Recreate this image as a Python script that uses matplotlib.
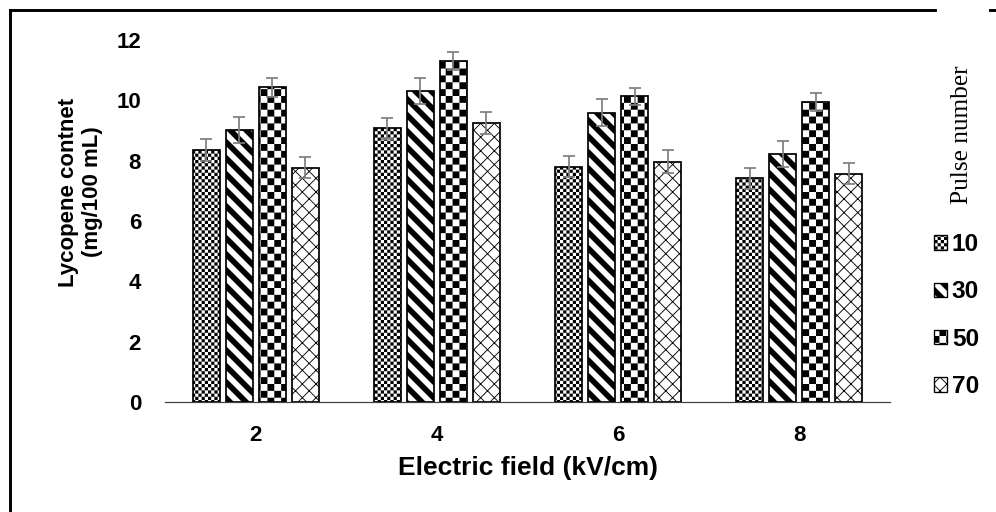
import numpy as np
import matplotlib
matplotlib.use('Agg')
import matplotlib.pyplot as plt
import matplotlib.hatch as mhatch
from matplotlib.path import Path
from matplotlib.patches import Patch
from matplotlib.lines import Line2D

# data
fields = ['2', '4', '6', '8']
pulses = ['10', '30', '50', '70']
p10 = [8.35, 9.08, 7.80, 7.42]
p30 = [9.02, 10.31, 9.59, 8.22]
p50 = [10.43, 11.29, 10.13, 9.95]
p70 = [7.77, 9.25, 7.97, 7.57]
e10 = [0.37, 0.35, 0.34, 0.35]
e30 = [0.43, 0.44, 0.44, 0.44]
e50 = [0.31, 0.30, 0.28, 0.29]
e70 = [0.36, 0.36, 0.37, 0.36]


# custom filled hatch patterns (checkerboards, thick stripes, thin diamonds)
def checker(n):
    s = 1.0 / n
    polys = []
    for i in range(n):
        for j in range(n):
            if (i + j) % 2 == 0:
                x0, y0 = i * s, j * s
                polys.append([(x0, y0), (x0 + s, y0), (x0 + s, y0 + s), (x0, y0 + s), (x0, y0)])
    return polys


def bands(n, w, down):
    polys = []
    for k in range(-n - 2, 2 * n + 2):
        a = k / n
        b = a + w
        if down:
            polys.append([(a + 1, -1), (a - 2, 2), (b - 2, 2), (b + 1, -1), (a + 1, -1)])
        else:
            polys.append([(a - 1, -1), (a + 2, 2), (b + 2, 2), (b - 1, -1), (a - 1, -1)])
    return polys


class PolyHatch(mhatch.HatchPatternBase):
    char = None

    def __init__(self, hatch, density):
        self.polys = self.make() if self.char in hatch else []
        self.num_vertices = 5 * len(self.polys)

    def set_vertices_and_codes(self, vertices, codes):
        vertices[:] = np.array(self.polys, dtype=float).reshape(-1, 2)
        c = np.full((len(self.polys), 5), Path.LINETO, dtype=Path.code_type)
        c[:, 0] = Path.MOVETO
        c[:, 4] = Path.CLOSEPOLY
        codes[:] = c.ravel()


class SmallChecker(PolyHatch):
    char = '.'

    def make(self):
        return checker(30)


class Stripes(PolyHatch):
    char = '\\'

    def make(self):
        return bands(6, 0.5 / 6, True)


class BigChecker(PolyHatch):
    char = 'O'

    def make(self):
        return checker(14)


class Diamonds(PolyHatch):
    char = 'x'

    def make(self):
        return bands(7, 0.013, True) + bands(7, 0.013, False)


mhatch._hatch_types = [SmallChecker, Stripes, BigChecker, Diamonds]
plt.rcParams['hatch.linewidth'] = 0.0
plt.rcParams['font.family'] = ['Liberation Sans', 'DejaVu Sans']
plt.rcParams['font.weight'] = 'bold'

hatches = ['.', '\\', 'O', 'x']
values = [p10, p30, p50, p70]
errors = [e10, e30, e50, e70]

fig = plt.figure(figsize=(10.375, 5.3334), dpi=96)
ax = fig.add_axes([165 / 996, 110 / 512, 725 / 996, 362 / 512])

x = np.arange(len(fields))
width = 0.149
step = 0.182
for i in range(len(pulses)):
    pos = x + (i - 1.5) * step
    ax.bar(pos, values[i], width, color='white', edgecolor='black',
           linewidth=1.3, hatch=hatches[i], zorder=2)
    ax.errorbar(pos, values[i], yerr=errors[i], fmt='none', ecolor='#7f7f7f',
                elinewidth=1.3, capsize=4.5, capthick=1.3, zorder=3)

ax.set_xlim(-0.5, 3.5)
ax.set_ylim(0, 12)
ax.set_yticks(range(0, 13, 2))
ax.set_xticks(x)
ax.set_xticklabels(fields)
ax.tick_params(axis='y', length=0, pad=18, labelsize=16.7)
ax.tick_params(axis='x', length=0, pad=17, labelsize=16.7)
for s in ['left', 'top', 'right']:
    ax.spines[s].set_visible(False)
ax.spines['bottom'].set_color('#404040')
ax.spines['bottom'].set_linewidth(0.9)

ax.set_ylabel('Lycopene contnet\n(mg/100 mL)', fontsize=16.7, fontweight='bold')
ax.yaxis.set_label_coords((103 - 165) / 725, 0.58)
ax.set_xlabel('Electric field (kV/cm)', fontsize=19.8, fontweight='bold')
ax.xaxis.set_label_coords(0.5, -0.148)

handles = [Patch(facecolor='white', edgecolor='black', linewidth=1.0, hatch=h) for h in hatches]
fig.legend(handles, pulses, loc='upper left', bbox_to_anchor=(934 / 996, 1 - 233 / 512),
           frameon=False, borderpad=0, borderaxespad=0, handlelength=0.53, handleheight=0.53,
           handletextpad=0.2, labelspacing=1.0, prop={'size': 18.3, 'weight': 'bold'})
fig.text(962 / 996, 1 - 135 / 512, 'Pulse number', rotation=90, ha='center', va='center',
         fontsize=19, fontweight='normal', family=['Liberation Serif', 'DejaVu Serif'])

# frame lines around the picture
fig.add_artist(Line2D([10 / 996, 10 / 996], [0, 1 - 10 / 512], transform=fig.transFigure,
                      color='black', linewidth=2.2))
fig.add_artist(Line2D([10 / 996, 935 / 996], [1 - 10 / 512, 1 - 10 / 512], transform=fig.transFigure,
                      color='black', linewidth=2.2))
fig.add_artist(Line2D([990 / 996, 1.0], [1 - 10 / 512, 1 - 10 / 512], transform=fig.transFigure,
                      color='black', linewidth=2.2))

fig.savefig('out.png', dpi=96)
